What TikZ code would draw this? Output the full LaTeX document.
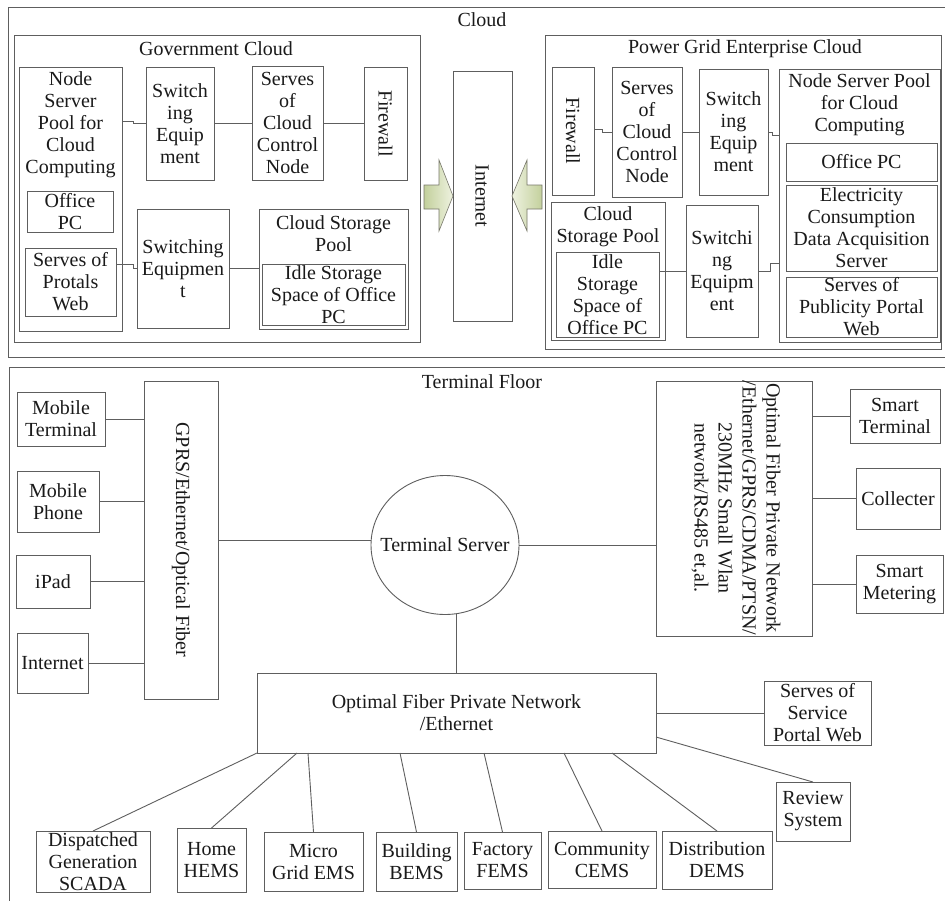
\documentclass[tikz,border=0pt]{standalone}
\usepackage{fontspec}
\setmainfont{Liberation Serif}
\usetikzlibrary{shapes.geometric,calc}
\definecolor{linec}{HTML}{5E5E5E}
\definecolor{txtc}{HTML}{1A1A1A}
\definecolor{arrA}{HTML}{C3D09C}
\definecolor{arrB}{HTML}{EEF2E0}
\definecolor{arrE}{HTML}{77776A}
\tikzset{
 box/.style={draw=linec, line width=0.9pt, inner sep=0pt, outer sep=0pt},
 txt/.style={inner sep=0pt, text=txtc, align=center, font=\fontsize{20}{22}\selectfont},
 vtxt/.style={txt, rotate=-90},
 conn/.style={draw=linec, line width=0.9pt},
 blockarrow/.style={draw=arrE, line width=0.6pt},
}
\newcommand\mybox[6]{%
 \node[box, minimum width={#4-#2}, minimum height={#5-#3}] (#1) at ({(#2+#4)/2},{(#3+#5)/2}) {};
 \node[txt] (#1t) at (#1) {#6};}
\begin{document}
\begin{tikzpicture}[x=1pt,y=-1pt]
\useasboundingbox (0,0) rectangle (945,900);
\fill[white] (0,0) rectangle (945,900);

% ---------------- Cloud ----------------
\node[box, minimum width=952, minimum height=350] (cloud) at (484,182) {};
\node[txt] (cloudt) at (482,20) {Cloud};

% Government cloud
\mybox{gov}{14}{35}{420}{342}{}
\node[txt] (govl) at (216,49) {Government Cloud};
\mybox{gnsp}{19}{67}{122}{331}{}
\node[txt] (gnspl) at (70.5,125) {Node\\Server\\Pool for\\Cloud\\Computing};
\mybox{gopc}{27}{191}{113}{232}{Office\\PC}
\mybox{gweb}{25}{248}{116}{316}{Serves of\\Protals\\Web}
\mybox{gsw1}{146}{67}{214}{180}{Switch\\ing\\Equip\\ment}
\mybox{gcc}{252}{66}{323}{180}{Serves\\of\\Cloud\\Control\\Node}
\mybox{gfw}{364}{67}{407}{180}{}
\node[vtxt] (gfwl) at (gfw) {Firewall};
\mybox{gsw2}{137}{209}{229}{328}{Switching\\Equipmen\\t}
\mybox{gcsp}{259}{209}{408}{329}{}
\node[txt] (gcspl) at (333.5,234) {Cloud Storage\\Pool};
\mybox{gidle}{262}{264}{405}{325}{Idle Storage\\Space of Office\\PC}

\draw[conn] ([yshift=2.5pt]gnsp.east |- gsw1.west) -- ++(11,0) |- (gsw1.west);
\draw[conn] (gsw1.east) -- (gsw1.east -| gcc.west);
\draw[conn] (gcc.east) -- (gcc.east -| gfw.west);
\draw[conn] ([yshift=4.5pt]gweb.east |- gsw2.west) -- ++(17,0) |- (gsw2.west);
\draw[conn] (gsw2.east) -- (gsw2.east -| gcsp.west);

% Internet
\mybox{inetc}{453}{71}{512}{321}{}
\node[vtxt] (inetcl) at (482,196) {Internet};
\path[blockarrow, left color=arrA, right color=arrB]
 (424,185) -- (439,185) -- (439,160) -- (453,196) -- (439,231) -- (439,209) -- (424,209) -- cycle;
\path[blockarrow, left color=arrB, right color=arrA]
 (542,185) -- (527,185) -- (527,160) -- (512,196) -- (527,231) -- (527,209) -- (542,209) -- cycle;

% Power grid enterprise cloud
\mybox{pg}{545}{35}{941}{349}{}
\node[txt] (pgl) at (745,49) {Power Grid Enterprise Cloud};
\mybox{pfw}{552}{67}{594}{195}{}
\node[vtxt] (pfwl) at (pfw) {Firewall};
\mybox{pcc}{612}{67}{682}{197}{Serves\\of\\Cloud\\Control\\Node}
\mybox{psw1}{699}{69}{768}{195}{Switch\\ing\\Equip\\ment}
\mybox{pnsp}{779}{69}{940}{342}{}
\node[txt] (pnspl) at (859.5,105) {Node Server Pool\\for Cloud\\Computing};
\mybox{popc}{786}{143}{937}{181}{Office PC}
\mybox{pecd}{786}{185}{937}{271}{Electricity\\Consumption\\Data Acquisition\\Server}
\mybox{pweb}{786}{277}{937}{337}{Serves of\\Publicity Portal\\Web}
\mybox{pcsp}{551}{202}{665}{340}{}
\node[txt] (pcspl) at (608,227) {Cloud\\Storage Pool};
\mybox{pidle}{556}{252}{659}{337}{Idle\\Storage\\Space of\\Office PC}
\mybox{psw2}{686}{205}{758}{337}{Switchi\\ng\\Equipm\\ent}

\draw[conn] ([yshift=1.5pt]pfw.east) -- ++(8,0) |- ([yshift=-1pt]pfw.east -| pcc.west);
\draw[conn] (pcc.east) -- (pcc.east -| psw1.west);
\draw[conn] (psw1.east) -- ++(4,0) |- ([yshift=-3pt]psw1.east -| pnsp.west);
\draw[conn] (psw2.west) -- (psw2.west -| pidle.east);
\draw[conn] (psw2.east) -- ++(12,0) |- ([yshift=8pt]psw2.east -| pnsp.west);

% ---------------- Terminal floor ----------------
\node[box, minimum width=951, minimum height=543] (tf) at (484.5,638.5) {};
\node[txt] (tfl) at (482,382) {Terminal Floor};

\mybox{gprs}{144}{381}{218}{699}{}
\node[vtxt] (gprsl) at (181,540) {GPRS/Ethernet/Optical Fiber};
\mybox{mt}{17}{392}{105}{446}{Mobile\\Terminal}
\mybox{mp}{17}{471}{99}{532}{Mobile\\Phone}
\mybox{ipad}{16}{555}{90}{608}{iPad}
\mybox{inet}{17}{633}{88}{693}{Internet}

\node[box, ellipse, minimum width=148, minimum height=139] (ts) at (445,545) {};
\node[txt] (tsl) at (ts) {Terminal Server};

\mybox{opt}{656}{381}{812}{636}{}
\node[vtxt, font=\fontsize{20}{24}\selectfont] (optl) at (736,508)
 {Optimal Fiber Private Network\\/Ethernet/GPRS/CDMA/PTSN/\\230MHz Small Wlan\\network/RS485 et,al.};
\mybox{st}{850}{389}{940}{443}{Smart\\Terminal}
\mybox{col}{856}{468}{940}{529}{Collecter}
\mybox{sm}{856}{555}{943}{613}{Smart\\Metering}

\mybox{ofpn}{257}{673}{656}{753}{Optimal Fiber Private Network\\/Ethernet}
\mybox{sspw}{764}{681}{871}{745}{Serves of\\Service\\Portal Web}
\mybox{rev}{776}{782}{850}{841}{Review\\System}

\mybox{dg}{36}{831}{150}{892}{Dispatched\\Generation\\SCADA}
\mybox{home}{177}{828}{246}{892}{Home\\HEMS}
\mybox{micro}{264}{832}{363}{891}{Micro\\Grid EMS}
\mybox{bld}{376}{832}{457}{891}{Building\\BEMS}
\mybox{fac}{464}{832}{541}{889}{Factory\\FEMS}
\mybox{com}{548}{831}{656}{888}{Community\\CEMS}
\mybox{dist}{662}{831}{772}{889}{Distribution\\DEMS}

\draw[conn] (mt.east) -- (mt.east -| gprs.west);
\draw[conn] (mp.east) -- (mp.east -| gprs.west);
\draw[conn] (ipad.east) -- (ipad.east -| gprs.west);
\draw[conn] (inet.east) -- (inet.east -| gprs.west);
\draw[conn] (gprs.east) -- (gprs.east -| ts.west);
\draw[conn] (ts.east) -- (ts.east -| opt.west);
\draw[conn] (st.west) -- (st.west -| opt.east);
\draw[conn] (col.west) -- (col.west -| opt.east);
\draw[conn] (sm.west) -- (sm.west -| opt.east);
\draw[conn] (ofpn.north) -- ([yshift=1pt]ofpn.north |- ts.south);
\draw[conn] (sspw.west) -- (sspw.west -| ofpn.east);
\draw[conn] ([yshift=16pt]ofpn.south east) -- (rev.north);
\draw[conn] (ofpn.south west) -- (dg.north);
\draw[conn] ([xshift=40pt]ofpn.south west) -- (home.north);
\draw[conn] ([xshift=51pt]ofpn.south west) -- (micro.north);
\draw[conn] ([xshift=143pt]ofpn.south west) -- (bld.north);
\draw[conn] ([xshift=227pt]ofpn.south west) -- (fac.north);
\draw[conn] ([xshift=307pt]ofpn.south west) -- (com.north);
\draw[conn] ([xshift=355pt]ofpn.south west) -- (dist.north);
\end{tikzpicture}
\end{document}
